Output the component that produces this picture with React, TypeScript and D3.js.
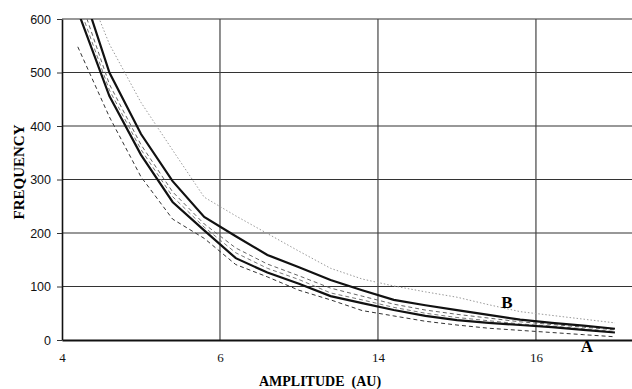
import React, { useEffect, useRef } from 'react';
import * as d3 from 'd3';

// category positions along the amplitude axis (in gridline units)
const amplitude = [0.1, 0.3, 0.5, 0.7, 0.9, 1.1, 1.3, 1.5, 1.7, 1.9, 2.1, 2.3, 2.5, 2.7, 2.9, 3.1, 3.3, 3.5];
const xTickLabels = ['4', '6', '14', '16'];
const yTicks = [0, 100, 200, 300, 400, 500, 600];

const curveA = [615, 456, 346, 258, 205, 153, 126, 105, 82, 69, 56, 45, 37, 32, 28, 24, 19, 14];
const curveALower = [548, 417, 305, 226, 190, 141, 118, 93, 75, 55, 45, 35, 28, 22, 18, 14, 10, 6];
const curveAUpper = [631, 467, 356, 268, 211, 163, 134, 113, 88, 75, 61, 50, 42, 36, 30, 26, 21, 16];
const curveB = [680, 500, 385, 297, 230, 194, 159, 136, 112, 93, 75, 65, 56, 47, 38, 32, 27, 21];
const curveBLower = [650, 478, 365, 277, 217, 172, 142, 120, 97, 82, 67, 56, 48, 41, 34, 29, 24, 19];
const curveBUpper = [700, 553, 444, 355, 267, 232, 199, 166, 134, 114, 101, 90, 80, 66, 53, 46, 39, 32];

function FrequencyChart() {
    const svgRef = useRef<SVGSVGElement>(null);
    const width = 632;
    const height = 389;
    const margin = { top: 19, right: 0, bottom: 49, left: 62 };

    useEffect(() => {
        if (!svgRef.current) return;
        const svg = d3.select(svgRef.current);
        svg.selectAll('*').remove();

        const x = d3.scaleLinear()
            .domain([0, 3.608])
            .range([margin.left, width - margin.right]);
        const y = d3.scaleLinear()
            .domain([0, 600])
            .range([height - margin.bottom, margin.top]);

        svg.append('defs').append('clipPath').attr('id', 'plot-clip')
            .append('rect')
            .attr('x', margin.left)
            .attr('y', margin.top)
            .attr('width', width - margin.left - margin.right)
            .attr('height', height - margin.top - margin.bottom);

        // horizontal gridlines
        svg.append('g')
            .selectAll('line')
            .data(yTicks.filter(d => d > 0))
            .enter()
            .append('line')
            .attr('x1', margin.left)
            .attr('x2', width)
            .attr('y1', d => y(d))
            .attr('y2', d => y(d))
            .attr('stroke', '#333')
            .attr('stroke-width', 1.2);

        // vertical gridlines
        svg.append('g')
            .selectAll('line')
            .data([1, 2, 3])
            .enter()
            .append('line')
            .attr('x1', d => x(d))
            .attr('x2', d => x(d))
            .attr('y1', y(600))
            .attr('y2', y(0))
            .attr('stroke', '#444')
            .attr('stroke-width', 1.2);

        // y axis
        const yAxis = svg.append('g')
            .attr('transform', `translate(${margin.left},0)`)
            .call(d3.axisLeft(y).tickValues(yTicks).tickSize(5).tickSizeOuter(0));
        yAxis.select('.domain').attr('stroke', '#111').attr('stroke-width', 1.6);
        yAxis.selectAll('.tick line').attr('stroke', '#333');
        yAxis.selectAll('text')
            .attr('x', -11)
            .style('font-family', '"Liberation Sans", Arial, sans-serif')
            .style('font-size', '12.5px')
            .attr('fill', '#111');

        // x axis
        const xAxis = svg.append('g')
            .attr('transform', `translate(0,${y(0)})`)
            .call(d3.axisBottom(x).tickValues([0, 1, 2, 3]).tickFormat((d, i) => xTickLabels[i]).tickSize(0).tickSizeOuter(0));
        xAxis.select('.domain').attr('stroke', '#111').attr('stroke-width', 1.8);
        xAxis.selectAll('text')
            .attr('dy', '0')
            .attr('y', 22)
            .style('font-family', '"Liberation Serif", "Times New Roman", serif')
            .style('font-size', '13px')
            .attr('fill', '#111');

        const line = d3.line<number>()
            .x((d, i) => x(amplitude[i]))
            .y(d => y(d));

        const series = [
            { values: curveBUpper, stroke: '#9a9a9a', width: 1, dash: '1.5,2' },
            { values: curveBLower, stroke: '#666', width: 1, dash: '4,3' },
            { values: curveAUpper, stroke: '#777', width: 1, dash: '4,3' },
            { values: curveALower, stroke: '#333', width: 1, dash: '4,3' },
            { values: curveA, stroke: '#111', width: 2.2, dash: null },
            { values: curveB, stroke: '#111', width: 2.2, dash: null },
        ];

        const plot = svg.append('g').attr('clip-path', 'url(#plot-clip)');
        plot.selectAll('path')
            .data(series)
            .enter()
            .append('path')
            .attr('d', d => line(d.values))
            .attr('fill', 'none')
            .attr('stroke', d => d.stroke)
            .attr('stroke-width', d => d.width)
            .attr('stroke-dasharray', d => d.dash);

        // curve labels
        svg.append('text')
            .attr('x', 507)
            .attr('y', 308)
            .attr('text-anchor', 'middle')
            .style('font-family', '"Liberation Serif", "Times New Roman", serif')
            .style('font-weight', 'bold')
            .style('font-size', '17px')
            .text('B');
        svg.append('text')
            .attr('x', 587)
            .attr('y', 352)
            .attr('text-anchor', 'middle')
            .style('font-family', '"Liberation Serif", "Times New Roman", serif')
            .style('font-weight', 'bold')
            .style('font-size', '17px')
            .text('A');

        // axis titles
        svg.append('text')
            .attr('x', 320)
            .attr('y', 386)
            .attr('text-anchor', 'middle')
            .style('font-family', '"Liberation Serif", "Times New Roman", serif')
            .style('font-weight', 'bold')
            .style('font-size', '14px')
            .attr('xml:space', 'preserve')
            .text('AMPLITUDE  (AU)');
        svg.append('text')
            .attr('transform', 'translate(24,172) rotate(-90)')
            .attr('text-anchor', 'middle')
            .style('font-family', '"Liberation Serif", "Times New Roman", serif')
            .style('font-weight', 'bold')
            .style('font-size', '15px')
            .text('FREQUENCY');
    }, []);

    return (
        <svg ref={svgRef} width={width} height={height}
            style={{ position: 'absolute', left: 0, top: 0, background: '#fff' }} />
    );
}

export default function App() {
    return <FrequencyChart />;
}
